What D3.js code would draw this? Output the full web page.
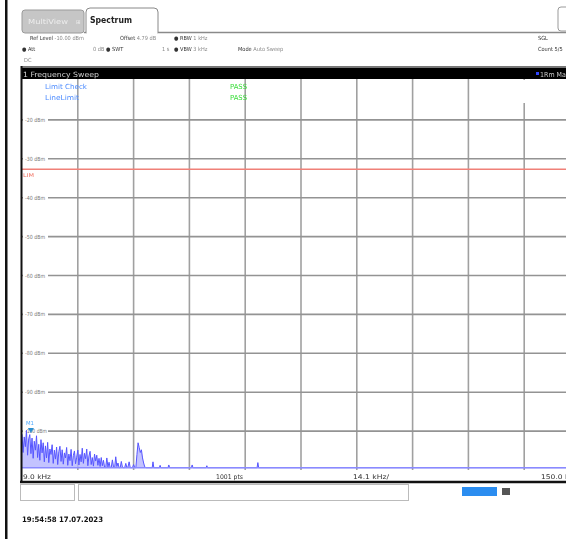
<!DOCTYPE html>
<html>
<head>
<meta charset="utf-8">
<script src="https://cdn.jsdelivr.net/npm/d3@7"></script>
<style>
  html, body { margin: 0; padding: 0; background: #fff; }
  svg { display: block; font-family: "DejaVu Sans Condensed", "DejaVu Sans", sans-serif; filter: blur(0.3px); }
</style>
</head>
<body>
<svg id="chart" width="566" height="539"></svg>
<script>
// ---------------- DATA ----------------
const refLevel = -10;           // dBm, top of screen
const bottomLevel = -110;       // dBm, bottom of screen
const startFreq = 9.0;          // kHz
const stopFreq = 150.0;         // kHz
const yTickLevels = [-20, -30, -40, -50, -60, -70, -80, -90, -100];
const yTickLabels = ["-20 dBm", "-30 dBm", "-40 dBm", "-50 dBm", "-60 dBm", "-70 dBm", "-80 dBm", "-90 dBm", "-100 dBm"];
const xGridFreqs = [23.1, 37.2, 51.3, 65.4, 79.5, 93.6, 107.7, 121.8, 135.9];
const xAxisLabels = ["9.0 kHz", "1001 pts", "14.1 kHz/", "150.0 kHz"];
const limitLevel = -32.7;       // dBm
const noiseFloor = -109.4;      // dBm

// dense low-frequency part of the trace (9.0 kHz onwards, every 0.282 kHz)
const denseStart = 9.0;
const denseStep = 0.282;
const denseLevels = [
  -100.8, -105.5, -101.5, -104.0, -99.8, -106.2, -102.0, -100.9,
  -105.8, -101.8, -107.0, -102.6, -104.9, -101.2, -106.8, -103.4, -107.5, -102.2, -105.6, -103.0, -107.9,
  -103.8, -106.9, -102.9, -108.1, -104.6, -106.0, -103.5, -108.3, -104.9, -107.2, -104.1, -108.6, -105.3, -103.9,
  -107.8, -104.8, -108.5, -105.6, -106.9, -104.2, -108.8, -105.9, -107.6, -104.7, -108.9, -106.3, -105.1, -108.4, -106.7, -104.9, -108.7, -106.0,
  -107.9, -104.4, -108.3, -105.7, -107.1, -104.6, -108.9, -106.4, -105.2, -108.6, -106.8, -109.0, -105.9, -107.7, -106.2, -108.8, -107.0, -109.1,
  -106.8, -108.9, -107.5, -109.3, -109.4, -106.9, -109.2, -108.0, -109.4, -109.3, -107.4, -109.2, -109.4, -106.6, -109.1, -108.2,
  -109.4, -109.4, -107.8, -109.3, -109.4, -109.4, -108.3, -109.4, -109.2, -107.9, -109.4, -109.4, -109.4, -108.6, -109.4, -109.4,
  -106.0, -103.0, -104.2, -105.5, -104.8, -106.9, -108.2, -109.2,
  -109.4, -109.4, -109.4
];
// isolated spurs further up: [kHz, dBm]
const spurs = [[42.1, -107.9], [43.9, -108.8], [46.1, -108.7], [52.0, -108.7], [55.7, -108.9], [68.6, -108.1]];

const marker = { name: "M1", freq: 11.256, level: -100.74 };

// ---------------- DRAW ----------------
const svg = d3.select("#chart");
const plot = { left: 22, right: 580, top: 81, bottom: 470 };

const x = d3.scaleLinear().domain([startFreq, stopFreq]).range([plot.left, plot.right]);
const y = d3.scaleLinear().domain([bottomLevel, refLevel]).range([plot.bottom, plot.top]);

function txt(g, px, py, s, size, fill, w, weight) {
  const t = g.append("text").attr("x", px).attr("y", py).attr("font-size", size).attr("fill", fill).text(s);
  if (w) t.attr("textLength", w).attr("lengthAdjust", "spacingAndGlyphs");
  if (weight) t.attr("font-weight", weight);
  return t;
}
// one text element made of [string, colour] parts, natural widths
function multi(g, px, py, parts, size) {
  const t = g.append("text").attr("x", px).attr("y", py).attr("font-size", size);
  parts.forEach(([s, c]) => t.append("tspan").attr("fill", c).text(s));
  return t;
}

// outer left dark border
svg.append("rect").attr("x", 5).attr("y", 0).attr("width", 2.5).attr("height", 539).attr("fill", "#111");

// tabs
svg.append("rect").attr("x", 22).attr("y", 10).attr("width", 62).attr("height", 23).attr("rx", 3)
  .attr("fill", "#c6c6c6").attr("stroke", "#9a9a9a");
txt(svg, 28, 24, "MultiView", 7, "#eee", 40);
txt(svg, 76, 24, "⊞", 6, "#eee");
svg.append("line").attr("x1", 84).attr("x2", 566).attr("y1", 32.5).attr("y2", 32.5).attr("stroke", "#8a8a8a").attr("stroke-width", 1.6);
svg.append("path").attr("d", "M86,33 L86,12 Q86,8 90,8 L154,8 Q158,8 158,12 L158,33")
  .attr("fill", "#fff").attr("stroke", "#888").attr("stroke-width", 1);
svg.append("rect").attr("x", 87).attr("y", 30).attr("width", 70).attr("height", 4).attr("fill", "#fff");
txt(svg, 90, 23, "Spectrum", 8.5, "#222", 42, "bold");
svg.append("rect").attr("x", 558).attr("y", 7).attr("width", 20).attr("height", 24).attr("rx", 3)
  .attr("fill", "#fff").attr("stroke", "#999");

// header info
const hdr = svg.append("g");
const dk = "#333", lt = "#8a8a8a", hs = 5.6;
multi(hdr, 30, 40, [["Ref Level ", dk], ["-10.00 dBm", lt]], hs);
multi(hdr, 120, 40, [["Offset ", dk], ["4.79 dB", lt]], hs);
multi(hdr, 174, 40, [["● RBW ", dk], ["1 kHz", lt]], hs);
multi(hdr, 22, 51, [["● Att", dk]], hs);
multi(hdr, 93, 51, [["0 dB ", lt], ["● SWT", dk]], hs);
multi(hdr, 162, 51, [["1 s", lt]], hs);
multi(hdr, 174, 51, [["● VBW ", dk], ["3 kHz", lt]], hs);
multi(hdr, 238, 51, [["Mode ", dk], ["Auto Sweep", lt]], hs);
multi(hdr, 24, 62, [["DC", lt]], hs);
multi(hdr, 538, 40, [["SGL", dk]], hs);
multi(hdr, 538, 51, [["Count 5/5", dk]], hs);

// title bar
svg.append("rect").attr("x", 21).attr("y", 66).attr("width", 545).attr("height", 3).attr("fill", "#777");
svg.append("rect").attr("x", 21).attr("y", 68).attr("width", 545).attr("height", 11).attr("fill", "#000");
txt(svg, 23, 76.5, "1 Frequency Sweep", 7.2, "#d0d0d0", 76);
svg.append("rect").attr("x", 536).attr("y", 72).attr("width", 3).attr("height", 3).attr("fill", "#2f45ff");
txt(svg, 540, 76.5, "1Rm Max", 7, "#ccc");

// plot background
svg.append("rect").attr("x", plot.left).attr("y", 79).attr("width", 566 - plot.left).attr("height", plot.bottom - 79).attr("fill", "#fff");

// grid
const grid = svg.append("g");
grid.selectAll("line.v").data(xGridFreqs).join("line")
  .attr("x1", d => x(d)).attr("x2", d => x(d)).attr("y1", 79).attr("y2", plot.bottom)
  .attr("stroke", "#a0a0a0").attr("stroke-width", 1.6);
grid.selectAll("line.h").data(yTickLevels).join("line")
  .attr("x1", plot.left).attr("x2", 566).attr("y1", d => y(d)).attr("y2", d => y(d))
  .attr("stroke", "#939393").attr("stroke-width", 1.6);

// y labels
const yl = svg.append("g").selectAll("g").data(yTickLevels).join("g")
  .attr("transform", d => `translate(${plot.left + 1},${y(d)})`);
yl.append("rect").attr("x", 0).attr("y", -3.5).attr("width", 25).attr("height", 7).attr("fill", "#fff");
yl.append("text").attr("x", 2).attr("y", 2).attr("font-size", 5.6).attr("fill", "#7a7a7a")
  .attr("textLength", (d, i) => i === 8 ? 22 : 20).attr("lengthAdjust", "spacingAndGlyphs")
  .text((d, i) => yTickLabels[i]);

// limit line
svg.append("line").attr("x1", plot.left).attr("x2", 566).attr("y1", y(limitLevel)).attr("y2", y(limitLevel))
  .attr("stroke", "#f08078").attr("stroke-width", 1.4);
txt(svg, 23, y(limitLevel) + 7.5, "LIM", 5.2, "#f07060", 11);

// limit check texts
const lc = svg.append("g");
txt(lc, 45, 89, "Limit Check", 7, "#4d8cff", 42);
txt(lc, 45, 100, "LineLimit", 7, "#4d8cff", 34);
txt(lc, 230, 89, "PASS", 7, "#33dd33", 17);
txt(lc, 230, 100, "PASS", 7, "#33dd33", 17);

// marker info box
svg.append("rect").attr("x", 490).attr("y", 80).attr("width", 76).attr("height", 23).attr("fill", "#fff");
txt(lc, 495, 89, "M1[1]", 7, "#4daaff", 20);
txt(lc, 533, 89, marker.level.toFixed(2) + " dBm", 7, "#4daaff");
txt(lc, 540, 100, marker.freq.toFixed(3) + " kHz", 7, "#4daaff");

// trace
const pts = denseLevels.map((v, i) => [denseStart + i * denseStep, v]);
spurs.forEach(([f, v]) => {
  pts.push([f - 0.2, noiseFloor]);
  pts.push([f, v]);
  pts.push([f + 0.2, noiseFloor]);
});
pts.push([stopFreq, noiseFloor]);
pts.sort((a, b) => a[0] - b[0]);

svg.append("path").datum(pts)
  .attr("d", d3.area().x(d => x(d[0])).y0(y(noiseFloor)).y1(d => y(d[1])))
  .attr("fill", "#b4b4ff").attr("opacity", 0.8);
svg.append("path").datum(pts)
  .attr("d", d3.line().x(d => x(d[0])).y(d => y(d[1])))
  .attr("fill", "none").attr("stroke", "#5555ff").attr("stroke-width", 1);
svg.append("line").attr("x1", plot.left).attr("x2", 566).attr("y1", y(noiseFloor)).attr("y2", y(noiseFloor))
  .attr("stroke", "#8a8aff").attr("stroke-width", 1.5);

// marker
const mx = x(marker.freq), my = y(marker.level);
svg.append("path").attr("d", `M${mx - 3},${my - 6} L${mx + 3},${my - 6} L${mx},${my - 1} Z`).attr("fill", "#2a8fd0");
txt(svg, mx - 5, my - 9, marker.name, 5.5, "#4daaff", 8);

// x axis row
const xr = svg.append("g");
txt(xr, 23, 478.5, xAxisLabels[0], 6.4, "#333", 28);
txt(xr, 216, 478.5, xAxisLabels[1], 6.4, "#333", 27);
txt(xr, 353, 478.5, xAxisLabels[2], 6.4, "#333", 36);
txt(xr, 541, 478.5, xAxisLabels[3], 6.4, "#333", 38);

// frame
svg.append("line").attr("x1", 21.5).attr("x2", 21.5).attr("y1", 66).attr("y2", 483).attr("stroke", "#111").attr("stroke-width", 2);
svg.append("line").attr("x1", 20).attr("x2", 566).attr("y1", 482).attr("y2", 482).attr("stroke", "#111").attr("stroke-width", 2.5);

// status row
svg.append("rect").attr("x", 20.5).attr("y", 484.5).attr("width", 54).attr("height", 16).attr("fill", "#fff").attr("stroke", "#bbb");
svg.append("rect").attr("x", 78.5).attr("y", 484.5).attr("width", 330).attr("height", 16).attr("fill", "#fff").attr("stroke", "#bbb");
svg.append("rect").attr("x", 462).attr("y", 487).attr("width", 35).attr("height", 9).attr("fill", "#2b8df0");
svg.append("rect").attr("x", 502).attr("y", 488).attr("width", 8).attr("height", 7).attr("fill", "#555");

// date
txt(svg, 22, 522, "19:54:58  17.07.2023", 7.4, "#111", 81, "bold");
</script>
</body>
</html>
